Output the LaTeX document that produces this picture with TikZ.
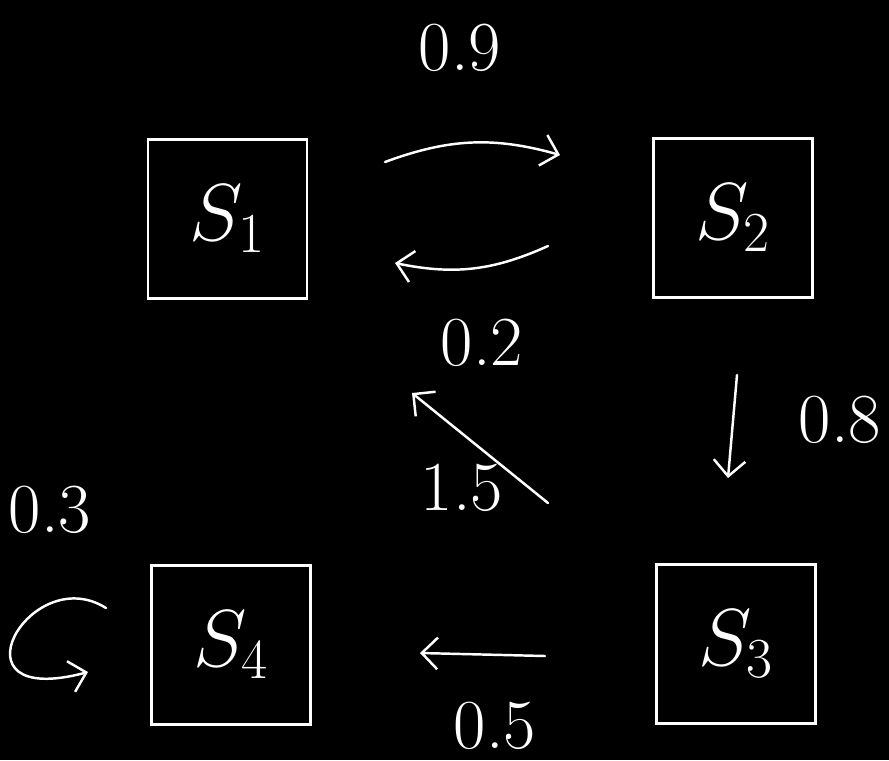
\documentclass[tikz,border=0pt]{standalone}
\usepackage{fix-cm}
\usepackage{tikz}
\usetikzlibrary{arrows.meta,positioning}

\begin{document}
\begin{tikzpicture}[
    state/.style={rectangle, draw=white, line width=1.7pt, minimum width=3.18cm,
                  minimum height=3.18cm, text=white,
                  font=\fontsize{46}{50}\selectfont},
    prob/.style={text=white, inner sep=0pt, font=\fontsize{40}{44}\selectfont},
    arrow/.style={-{Straight Barb[length=9pt,width=18pt]}, draw=white,
                  line width=1.4pt, line cap=round}
  ]
    \useasboundingbox (0,0) rectangle (17.78,-15.2);
    \fill[black] (0,0) rectangle (17.78,-15.2);
    \node[state] (s1) at (4.55,-4.37)  {$S_1$};
    \node[state] (s2) at (14.66,-4.36) {$S_2$};
    \node[state] (s3) at (14.72,-12.88) {$S_3$};
    \node[state] (s4) at (4.62,-12.9)  {$S_4$};
    % free ends of the transitions
    \coordinate (a12) at (7.7,-3.24);  \coordinate (b12) at (11.2,-3.1);
    \coordinate (a21) at (10.96,-4.92); \coordinate (b21) at (7.9,-5.26);
    \coordinate (a23) at (14.74,-7.5); \coordinate (b23) at (14.56,-9.56);
    \coordinate (a31) at (10.96,-10.06); \coordinate (b31) at (8.24,-7.86);
    \coordinate (a34) at (10.9,-13.12); \coordinate (b34) at (8.4,-13.06);
    \coordinate (a44) at (2.12,-12.16); \coordinate (b44) at (1.76,-13.44);
    \draw[arrow] (a12) to[bend left=18] (b12);
    \draw[arrow] (a21) to[bend left=18] (b21);
    \draw[arrow] (a23) -- (b23);
    \draw[arrow] (a31) -- (b31);
    \draw[arrow] (a34) -- (b34);
    \draw[arrow] (a44) .. controls (0.6,-11.2) and (-1.1,-14.2) .. (b44);
    \node[prob] (p12) at (9.2,-0.95)   {0.9};
    \node[prob] (p21) at (9.64,-6.86)  {0.2};
    \node[prob] (p23) at (16.8,-8.4)   {0.8};
    \node[prob] (p31) at (9.24,-9.76)  {1.5};
    \node[prob] (p34) at (9.9,-14.52)  {0.5};
    \node[prob] (p44) at (1.0,-10.2)   {0.3};
  \end{tikzpicture}
\end{document}
